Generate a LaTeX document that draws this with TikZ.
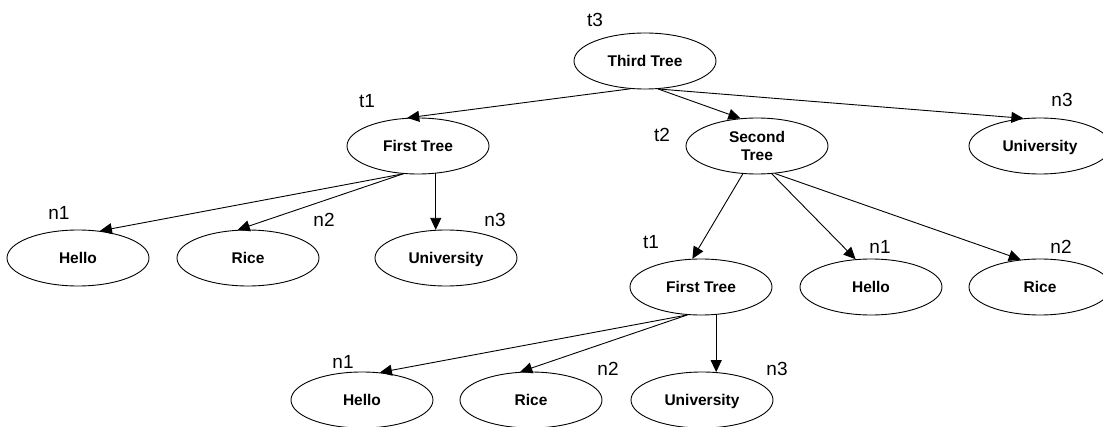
\documentclass[tikz,border=0pt]{standalone}
\usepackage{fontspec}
\setmainfont{Liberation Sans}
\usetikzlibrary{shapes.geometric,arrows.meta}
\begin{document}
\begin{tikzpicture}[x=1pt,y=-1pt,line width=0.9pt,
  tnode/.style={ellipse,draw,minimum width=142pt,minimum height=56pt,inner sep=0pt,
     font=\fontsize{15.5}{18}\selectfont\bfseries,align=center},
  onel/.style={tnode,text height=11pt,text depth=0pt},
  lbl/.style={font=\fontsize{19}{22}\selectfont,inner sep=0pt},
  arr/.style={-{Triangle[length=12pt,width=11pt]}}]
\useasboundingbox (0,0) rectangle (1103,427);
% nodes
\node[onel] (t3)  at (645,61)  {Third Tree};
\node[onel] (t1a) at (418,146) {First Tree};
\node[tnode] (t2)  at (757,146) {Second\\Tree};
\node[onel] (u1)  at (1040,146) {University};
\node[onel] (h1)  at (78,258)  {Hello};
\node[onel] (r1)  at (248,258) {Rice};
\node[onel] (u2)  at (446,258) {University};
\node[onel] (t1b) at (701,287) {First Tree};
\node[onel] (h2)  at (871,287) {Hello};
\node[onel] (r2)  at (1040,287) {Rice};
\node[onel] (h3)  at (362,400) {Hello};
\node[onel] (r3)  at (531,400) {Rice};
\node[onel] (u3)  at (702,400) {University};
% labels
\node[lbl] (lt3) at (595,20) {t3};
\node[lbl] (lt1a) at (367,101) {t1};
\node[lbl] (lt2) at (662,135) {t2};
\node[lbl] (ln3a) at (1062,100) {n3};
\node[lbl] (ln1a) at (59,213) {n1};
\node[lbl] (ln2a) at (324,220) {n2};
\node[lbl] (ln3b) at (495,220) {n3};
\node[lbl] (lt1b) at (651,242) {t1};
\node[lbl] (ln1b) at (880,247) {n1};
\node[lbl] (ln2b) at (1061,247) {n2};
\node[lbl] (ln1c) at (343,362) {n1};
\node[lbl] (ln2c) at (608,369) {n2};
\node[lbl] (ln3c) at (777,369) {n3};
% edges
\draw[arr] (t3.-118) -- (t1a.111);
\draw[arr] (t3.-65) -- (t2.121);
\draw[arr] (t3.-65) -- (u1.121);
\draw[arr] (t1a.-118) -- (h1.51);
\draw[arr] (t1a.-118) -- (r1.110);
\draw[arr] (u2.110 |- t1a.-56) -- (u2.110);
\draw[arr] (t2.-117) -- (t1b.107);
\draw[arr] (t2.-62) -- (h2.119);
\draw[arr] (t2.-57) -- (r2.125);
\draw[arr] (t1b.-116) -- (h3.57);
\draw[arr] (t1b.-116) -- (r3.111);
\draw[arr] (u3.63 |- t1b.-62) -- (u3.63);
\end{tikzpicture}
\end{document}
